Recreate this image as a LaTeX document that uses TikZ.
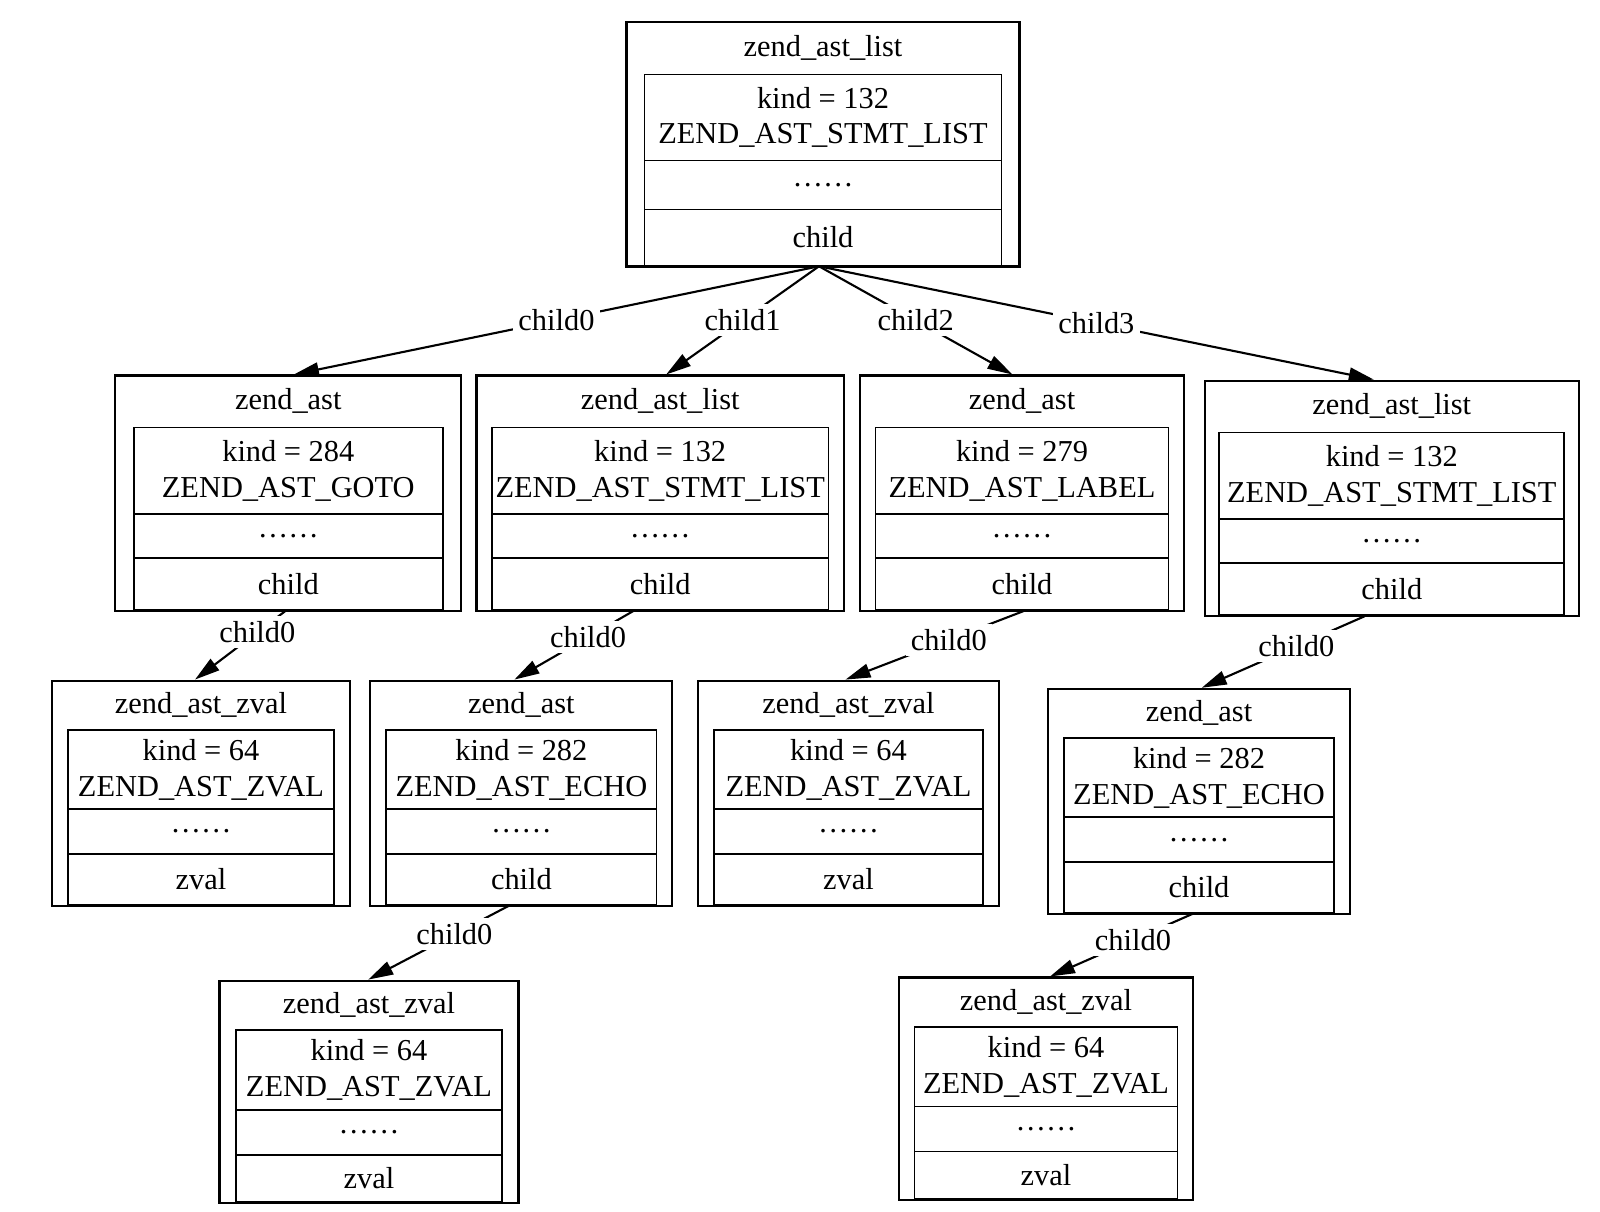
\documentclass[tikz,border=0pt]{standalone}
\usepackage{fontspec}
\setmainfont{Liberation Serif}
\usetikzlibrary{arrows.meta,calc}

\newcommand{\sethts}[4]{\def\hT{#1}\def\hK{#2}\def\hD{#3}\def\hF{#4}}
% #1 name, #2 x, #3 top, #4 outer width, #5 inner width, #6 title, #7 kind, #8 field
\newcommand{\astbox}[8]{%
  \pgfmathsetmacro\hAll{\hT+\hK+\hD+\hF}
  \node[outerbox, minimum width=#4*0.1mm, minimum height=\hAll*0.1mm]
    (#1) at (#2,#3) {};
  \node (#1-t) at (#2,#3+\hT/2) {#6};
  \node[partbox, minimum width=#5*0.1mm, minimum height=\hK*0.1mm]
    (#1-k) at (#2,#3+\hT+\hK/2) {#7};
  \node[partbox, minimum width=#5*0.1mm, minimum height=\hD*0.1mm]
    (#1-d) at (#2,#3+\hT+\hK+\hD/2) {……};
  \node[partbox, minimum width=#5*0.1mm, minimum height=\hF*0.1mm]
    (#1-f) at (#2,#3+\hT+\hK+\hD+\hF/2) {#8};
}

\begin{document}
\begin{tikzpicture}[
    x=0.1mm, y=-0.1mm,
    every node/.append style = {font=\fontsize{8.65}{10.2}\selectfont},
    outerbox/.style = {draw, line width=0.6pt, anchor=north, inner sep=0pt},
    partbox/.style = {draw, line width=0.5pt, inner sep=0pt, align=center},
    edge/.style = {line width=0.6pt, -{Triangle[length=2.5mm, width=1.4mm]}},
    lbl/.style = {fill=white, inner sep=1.5pt}
  ]
  \useasboundingbox (0,0) rectangle (1600,1212);

  % top list
  \sethts{53}{86}{49}{56}
  \astbox{T}{823}{21.4}{393}{357}{zend\_ast\_list}
    {kind = 132\\ZEND\_AST\_STMT\_LIST}{child}

  % statements
  \sethts{53}{86.7}{44}{52}
  \astbox{A}{288.3}{374.5}{346}{309}{zend\_ast}
    {kind = 284\\ZEND\_AST\_GOTO}{child}
  \astbox{B}{660.2}{374.5}{367.4}{336.7}{zend\_ast\_list}
    {kind = 132\\ZEND\_AST\_STMT\_LIST}{child}
  \astbox{C}{1022}{374.5}{323.5}{293}{zend\_ast}
    {kind = 279\\ZEND\_AST\_LABEL}{child}
  \astbox{D}{1391.8}{379.6}{373.5}{345}{zend\_ast\_list}
    {kind = 132\\ZEND\_AST\_STMT\_LIST}{child}

  \sethts{50.5}{79}{45}{50.5}
  \astbox{E}{201}{679.6}{298}{266}{zend\_ast\_zval}
    {kind = 64\\ZEND\_AST\_ZVAL}{zval}
  \astbox{F}{521.4}{679.6}{302}{270.4}{zend\_ast}
    {kind = 282\\ZEND\_AST\_ECHO}{child}
  \astbox{G}{848.5}{679.6}{301}{269.4}{zend\_ast\_zval}
    {kind = 64\\ZEND\_AST\_ZVAL}{zval}
  \astbox{H}{1199}{687.8}{302}{270.4}{zend\_ast}
    {kind = 282\\ZEND\_AST\_ECHO}{child}

  \sethts{50.5}{79.6}{45}{47}
  \astbox{I}{369}{979.6}{299}{266.3}{zend\_ast\_zval}
    {kind = 64\\ZEND\_AST\_ZVAL}{zval}
  \astbox{J}{1046}{976.5}{294}{263}{zend\_ast\_zval}
    {kind = 64\\ZEND\_AST\_ZVAL}{zval}

  % edges from the top list
  \draw[edge] ($(T-f.south)+(-4,0)$) -- node[lbl] {child0} ($(A.north)+(5.6,0)$);
  \draw[edge] ($(T-f.south)+(-4,0)$) -- node[lbl] {child1} ($(B.north)+(6,0)$);
  \draw[edge] ($(T-f.south)+(-4,0)$) -- node[lbl] {child2} ($(C.north)+(-9.6,0)$);
  \draw[edge] ($(T-f.south)+(-4,0)$) -- node[lbl] {child3} ($(D.north)+(-18,0)$);

  % child0 of each statement
  \foreach \src/\dst/\s/\e/\p in {A/E/-3/-6/0.31, B/F/-27/-7/0.38,
      C/G/1.6/-3/0.42, D/H/-27/2.7/0.42, F/I/-12/-0.7/0.39, H/J/-6/4/0.42} {
    \draw[edge] ($(\src-f.south)+(\s,0)$) -- node[lbl, pos=\p] {child0}
      ($(\dst.north)+(\e,0)$);
  }
\end{tikzpicture}
\end{document}
